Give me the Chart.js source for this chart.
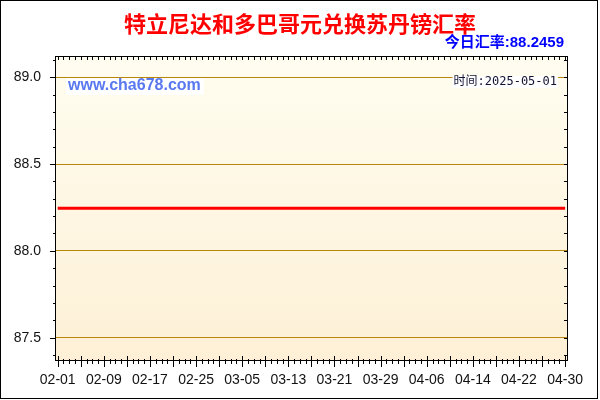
<!DOCTYPE html>
<html>
<head>
<meta charset="utf-8">
<script src="https://cdn.jsdelivr.net/npm/chart.js@4.4.1/dist/chart.umd.min.js"></script>
<style>
  body { margin: 0; background: #fff; }
  canvas { display: block; }
</style>
</head>
<body>
<canvas id="chart" width="600" height="400"></canvas>
<script>
// chart texts
const chartTitle = "特立尼达和多巴哥元兑换苏丹镑汇率";
const currentRate = "88.2459";
const siteName = "www.cha678.com";
const dateText = "时间:2025-05-01";

// daily rates, 02-01 .. 04-30 (89 days), flat line in the picture
const rates = [
    88.2459, 88.2459, 88.2459, 88.2459, 88.2459, 88.2459, 88.2459, 88.2459, 88.2459, 88.2459,
    88.2459, 88.2459, 88.2459, 88.2459, 88.2459, 88.2459, 88.2459, 88.2459, 88.2459, 88.2459,
    88.2459, 88.2459, 88.2459, 88.2459, 88.2459, 88.2459, 88.2459, 88.2459, 88.2459, 88.2459,
    88.2459, 88.2459, 88.2459, 88.2459, 88.2459, 88.2459, 88.2459, 88.2459, 88.2459, 88.2459,
    88.2459, 88.2459, 88.2459, 88.2459, 88.2459, 88.2459, 88.2459, 88.2459, 88.2459, 88.2459,
    88.2459, 88.2459, 88.2459, 88.2459, 88.2459, 88.2459, 88.2459, 88.2459, 88.2459, 88.2459,
    88.2459, 88.2459, 88.2459, 88.2459, 88.2459, 88.2459, 88.2459, 88.2459, 88.2459, 88.2459,
    88.2459, 88.2459, 88.2459, 88.2459, 88.2459, 88.2459, 88.2459, 88.2459, 88.2459, 88.2459,
    88.2459, 88.2459, 88.2459, 88.2459, 88.2459, 88.2459, 88.2459, 88.2459, 88.2459
];

// x axis labels (day index from 02-01)
const xTickDays = [0, 8, 16, 24, 32, 40, 48, 56, 64, 72, 80, 88];
const xTickLabels = ["02-01", "02-09", "02-17", "02-25", "03-05", "03-13", "03-21", "03-29", "04-06", "04-14", "04-22", "04-30"];

// y axis ticks
const yTicks = [87.5, 88.0, 88.5, 89.0];
const yMinorTicks = [87.4, 87.5, 87.6, 87.7, 87.8, 87.9, 88.0, 88.1, 88.2, 88.3, 88.4, 88.5, 88.6, 88.7, 88.8, 88.9, 89.0, 89.1];

// background, frame, small ticks and texts
const decorPlugin = {
    id: "decor",
    beforeDraw(chart) {
        const ctx = chart.ctx;
        const a = chart.chartArea;
        ctx.save();
        ctx.fillStyle = "#fff";
        ctx.fillRect(0, 0, chart.width, chart.height);
        let grad = ctx.createLinearGradient(0, a.top, 0, a.bottom);
        grad.addColorStop(0, "#fffdf0");
        grad.addColorStop(1, "#fdf0d6");
        ctx.fillStyle = grad;
        ctx.fillRect(a.left, a.top, a.right - a.left, a.bottom - a.top);
        ctx.restore();
    },
    afterDraw(chart) {
        const ctx = chart.ctx;
        const a = chart.chartArea;
        const xs = chart.scales.x;
        const ys = chart.scales.y;
        ctx.save();
        ctx.strokeStyle = "#000";
        ctx.lineWidth = 1;
        ctx.beginPath();

        // x ticks, one per day
        rates.forEach(function(v, i) {
            let px = Math.round(xs.getPixelForValue(i)) + 0.5;
            ctx.moveTo(px, a.top);
            ctx.lineTo(px, a.top + 3);
            if (i % 4 === 0) {
                ctx.moveTo(px, a.bottom - 5);
                ctx.lineTo(px, a.bottom + 6);
            } else {
                ctx.moveTo(px, a.bottom - 2);
                ctx.lineTo(px, a.bottom + 3);
            }
        });

        // y ticks
        yMinorTicks.forEach(function(v) {
            let py = Math.round(ys.getPixelForValue(v)) + 0.5;
            let len = yTicks.includes(v) ? 6 : 3;
            ctx.moveTo(a.left - len, py);
            ctx.lineTo(a.left, py);
            ctx.moveTo(a.right - 4, py);
            ctx.lineTo(a.right, py);
        });
        ctx.stroke();

        // plot frame and outer border
        ctx.strokeRect(Math.round(a.left) - 0.5, Math.round(a.top) - 0.5, Math.round(a.right - a.left), Math.round(a.bottom - a.top));
        ctx.strokeRect(0.5, 0.5, 597, 398);

        // title
        ctx.textBaseline = "middle";
        ctx.textAlign = "center";
        ctx.fillStyle = "#ff0000";
        ctx.font = "bold 22px 'Noto Sans CJK SC'";
        ctx.fillText(chartTitle, 300, 24);

        // today's rate
        ctx.textAlign = "right";
        ctx.fillStyle = "#0000ff";
        ctx.font = "bold 15px 'Liberation Sans', 'Noto Sans CJK SC'";
        ctx.fillText("今日汇率:" + currentRate, 564, 43);

        // watermark with white box
        ctx.textAlign = "left";
        ctx.font = "bold 16px 'Liberation Sans'";
        let w = ctx.measureText(siteName).width;
        ctx.fillStyle = "#ffffff";
        ctx.fillRect(66, 78, w + 5, 17);
        ctx.fillStyle = "#5a78f0";
        ctx.fillText(siteName, 68, 86);

        // date with white box
        ctx.font = "12px 'DejaVu Sans Mono', 'Noto Sans CJK SC'";
        w = ctx.measureText(dateText).width;
        ctx.fillStyle = "#ffffff";
        ctx.fillRect(557 - w - 1, 76, w + 2, 12);
        ctx.fillStyle = "#111133";
        ctx.fillText(dateText, 557 - w, 82);
        ctx.restore();
    }
};

const ctx = document.getElementById("chart").getContext("2d");
window.rateChart = new Chart(ctx, {
    type: "line",
    data: {
        datasets: [{
            label: "汇率",
            data: rates.map(function(v, i) { return { x: i, y: v }; }),
            borderColor: "#ff0000",
            borderWidth: 3,
            pointRadius: 0,
            tension: 0,
            fill: false
        }]
    },
    options: {
        responsive: false,
        animation: false,
        devicePixelRatio: 1,
        layout: { padding: { top: 57, right: 32, left: 0, bottom: 0 } },
        plugins: {
            legend: { display: false },
            tooltip: { enabled: false }
        },
        scales: {
            x: {
                type: "linear",
                min: -0.3,
                max: 88.5,
                afterBuildTicks: function(scale) {
                    scale.ticks = xTickDays.map(function(d) { return { value: d }; });
                },
                afterFit: function(scale) { scale.height = 39; },
                ticks: {
                    autoSkip: false,
                    maxRotation: 0,
                    padding: 11,
                    color: "#111",
                    font: { family: "'Liberation Sans'", size: 14 },
                    callback: function(value) {
                        return xTickLabels[xTickDays.indexOf(value)];
                    }
                },
                grid: { display: false, drawTicks: false },
                border: { display: false }
            },
            y: {
                min: 87.366,
                max: 89.116,
                afterBuildTicks: function(scale) {
                    scale.ticks = yTicks.map(function(v) { return { value: v }; });
                },
                afterFit: function(scale) { scale.width = 56; },
                ticks: {
                    padding: 15,
                    color: "#111",
                    font: { family: "'Liberation Sans'", size: 14 },
                    callback: function(value) { return value.toFixed(1); }
                },
                grid: { color: "#b8860b", lineWidth: 1, drawTicks: false },
                border: { display: false }
            }
        }
    },
    plugins: [decorPlugin]
});
</script>
</body>
</html>
